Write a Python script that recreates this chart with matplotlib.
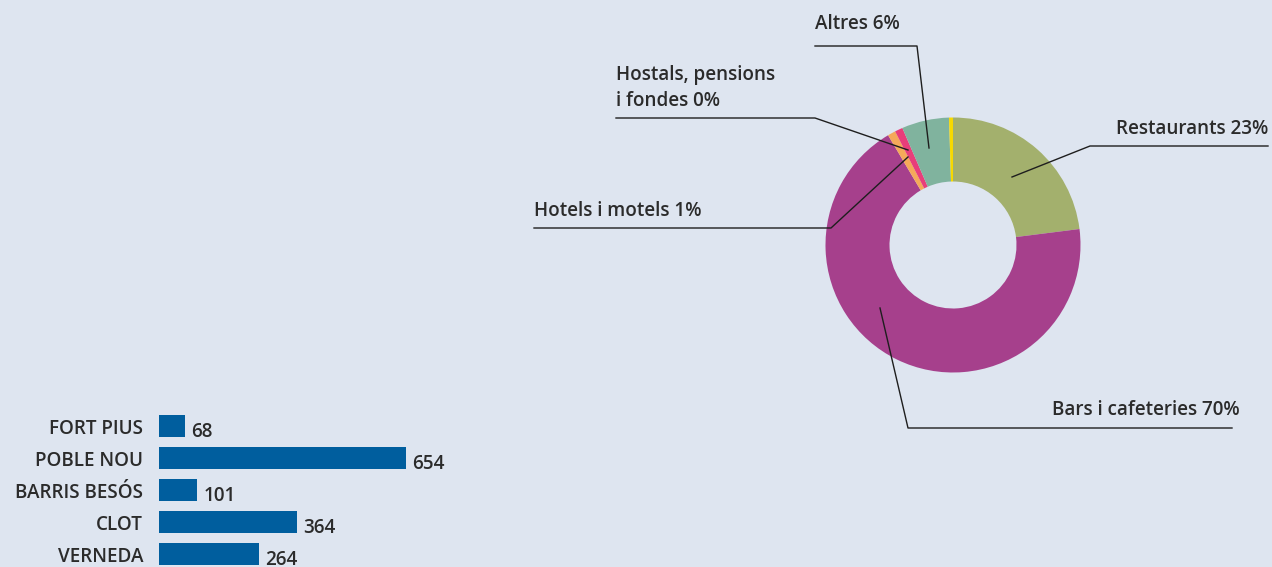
import matplotlib
matplotlib.use("Agg")
import matplotlib.pyplot as plt

# --- data ---
barris = ["FORT PIUS", "POBLE NOU", "BARRIS BESÓS", "CLOT", "VERNEDA"]
establiments = [68, 654, 101, 364, 264]

tipus = ["Restaurants 23%", "Bars i cafeteries 70%", "Hotels i motels 1%",
         "Hostals, pensions\ni fondes 0%", "Altres 6%", ""]
percent = [23, 68.5, 1.0, 1.0, 6.0, 0.5]
colors_pie = ["#A3B06D", "#A6408C", "#F5A95A", "#E83E7A", "#80B39E", "#F7D900"]

BG = "#DEE5F0"
TXT = "#2B2B2B"
BLUE = "#005E9E"
W, H = 1272, 567
FONT = "Open Sans"
FS = 13.6
WT = "semibold"

fig = plt.figure(figsize=(W / 100, H / 100), dpi=100, facecolor=BG)

# ---- donut (pixel coords, y flipped) ----
ax = fig.add_axes([0, 0, 1, 1])
ax.axis("off")

cx, cy, R = 953, 245, 127.5
# y axis is flipped, so -90 is the top and counterclock runs clockwise on screen
ax.pie(percent, colors=colors_pie, startangle=-90, counterclock=True,
       center=(cx, cy), radius=R, wedgeprops=dict(width=64, linewidth=0))
ax.set_xlim(0, W)
ax.set_ylim(H, 0)
ax.set_aspect("equal")

# leader lines: label, text xy, ha, polyline
lead = [
    (tipus[0], (1268, 139), "right", [(1268, 146), (1090, 146), (1012, 177)]),
    (tipus[1], (1240, 420), "right", [(1232, 428), (908, 428), (880, 308)]),
    (tipus[2], (534, 221), "left", [(534, 228), (831, 228), (908, 157)]),
    (tipus[3], (616, 111), "left", [(616, 118), (815, 118), (908, 150)]),
    (tipus[4], (815, 34), "left", [(815, 46), (917, 46), (929, 148)]),
]
for txt, (tx, ty), ha, pts in lead:
    ax.plot([p[0] for p in pts], [p[1] for p in pts], color="#1E1E1E", lw=1.0)
    ax.text(tx, ty, txt, ha=ha, va="bottom", fontsize=FS, color=TXT,
            family=FONT, weight=WT, linespacing=1.4)

# ---- horizontal bars ----
scale = 0.378  # px per unit
x0, top, bot = 159, 410, 567
bx = fig.add_axes([x0 / W, 0, 800 * scale / W, (bot - top) / H])
bx.set_facecolor("none")
ypos = list(range(len(barris)))
bx.barh(ypos, establiments, height=0.69, color=BLUE)
bx.set_xlim(0, 800)
bx.set_ylim((bot - 426) / 32, (top - 426) / 32)
bx.set_yticks(ypos)
bx.set_yticklabels(barris, fontsize=FS, color=TXT, family=FONT, weight=WT)
bx.tick_params(axis="y", length=0, pad=11.5)
bx.set_xticks([])
for s in bx.spines.values():
    s.set_visible(False)
for y, v in zip(ypos, establiments):
    bx.annotate(str(v), (v, y + 0.34), xytext=(4.5, 0), textcoords="offset points",
                ha="left", va="baseline", fontsize=FS, color=TXT,
                family=FONT, weight=WT, annotation_clip=False)

fig.savefig("out.png", dpi=100, facecolor=BG)
